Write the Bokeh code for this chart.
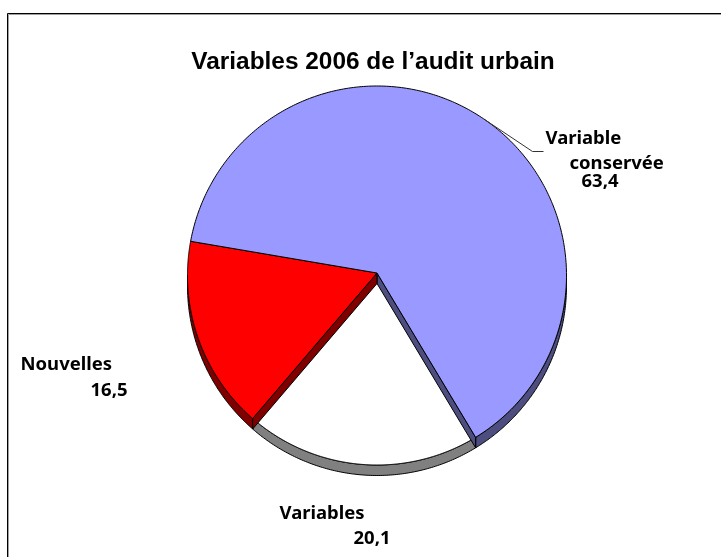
import numpy as np
from bokeh.plotting import figure
from bokeh.embed import file_html
from bokeh.resources import INLINE
from bokeh.core.properties import value

categories = ["Variable conservée", "Variables", "Nouvelles"]
values = [63.4, 20.1, 16.5]
value_labels = ["63,4", "20,1", "16,5"]
title = "Variables 2006 de l’audit urbain"
top_colors = ["#9999FF", "#FFFFFF", "#FF0000"]
side_colors = ["#4D4D80", "#808080", "#800000"]

W, H = 721, 557
CX, CY, R, DEPTH = 376.5, 275.0, 189.5, 10.5
VX, VY = 376.5, 272.5
START_DEG = 280.4


def Y(y):
    return H - np.asarray(y, dtype=float)


p = figure(width=W, height=H, x_range=(0, W), y_range=(0, H), toolbar_location=None,
           output_backend="svg", min_border=0, outline_line_color=None,
           background_fill_color="white", border_fill_color="white")
p.axis.visible = False
p.grid.visible = False
p.styles = {"position": "fixed", "left": "0px", "top": "0px"}

# frame
p.line([7, 7, W], Y([H, 13, 13]), line_color="black", line_width=1)
p.line([8, 8, W], Y([H, 14, 14]), line_color="#A0A0A0", line_width=1)

fr = np.cumsum([0] + values) / sum(values)
a0 = np.radians(START_DEG + 360 * fr[:-1])
a1 = np.radians(START_DEG + 360 * fr[1:])


def pt(a, dy=0.0):
    return CX + R * np.sin(a), CY - R * np.cos(a) + dy


# outer rims: only the lower half of the circle shows its side
for i in range(3):
    lo, hi = a0[i], a1[i]
    for shift in (-2 * np.pi, 0, 2 * np.pi):
        s = max(lo + shift, np.pi / 2)
        e = min(hi + shift, 3 * np.pi / 2)
        if e > s:
            t = np.linspace(s, e, 120)
            x1, y1 = pt(t)
            x2, y2 = pt(t[::-1], DEPTH)
            p.patch(np.r_[x1, x2], Y(np.r_[y1, y2]), fill_color=side_colors[i],
                    line_color="black", line_width=1)


def top(i):
    t = np.linspace(a0[i], a1[i], 300)
    x, y = pt(t)
    p.patch(np.r_[VX, x], Y(np.r_[VY, y]), fill_color=top_colors[i], line_color="black", line_width=1)


top(1)
# cut faces seen through the gap of the lower slice
for i, a in ((0, a1[0]), (2, a0[2])):
    x, y = pt(a)
    p.patch([VX, x, x, VX], Y([VY, y, y + DEPTH, VY + DEPTH]), fill_color=side_colors[i],
            line_color="black", line_width=1)
top(2)
top(0)

# leader line
mid = (a0[0] + a1[0]) / 2
mx, my = pt(mid)
p.line([mx, 532, 543], Y([my, 151, 151]), line_color="#333333", line_width=1)

p.text([372.5], Y([60]), text=[title], text_font=value("Liberation Sans"), text_font_style="bold",
       text_font_size="24.4px", text_align="center", text_baseline="middle", text_color="black")

LF = value("Noto Sans")
lab = [("Variable", 545, 136), ("conservée", 569, 161), (value_labels[0], 581, 180),
       ("Nouvelles", 20, 362), (value_labels[2], 90, 389),
       ("Variables", 279, 511), (value_labels[1], 353, 537)]
p.text([l[1] for l in lab], Y([l[2] for l in lab]), text=[l[0] for l in lab], text_font=LF,
       text_font_style="bold", text_font_size="18.5px", text_align="left", text_baseline="middle",
       text_color="black")

open("out.html", "w").write(file_html(p, INLINE))
